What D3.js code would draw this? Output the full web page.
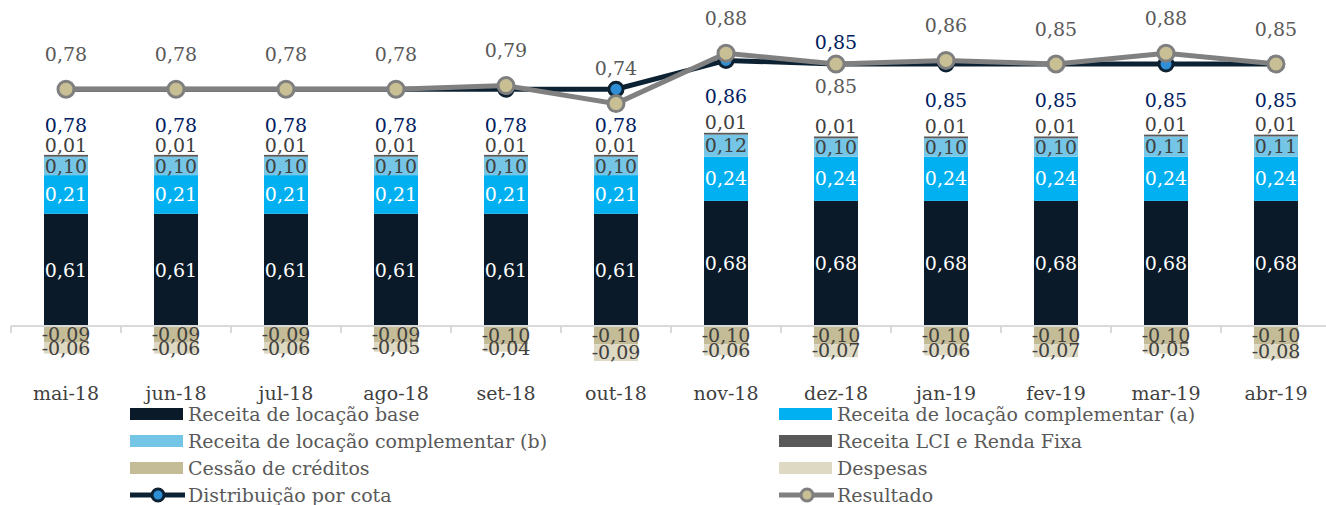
<!DOCTYPE html>
<html lang="en">
<head>
<meta charset="UTF-8">
<title>Distribuição por cota</title>
<script src="https://d3js.org/d3.v7.min.js"></script>
<style>
  body { margin: 0; background: #fff; }
  text { font-family: "DejaVu Serif", serif; }
</style>
</head>
<body>
<div id="chart"></div>
<script>
const months = ["mai-18","jun-18","jul-18","ago-18","set-18","out-18","nov-18","dez-18","jan-19","fev-19","mar-19","abr-19"];
const base     = [0.61,0.61,0.61,0.61,0.61,0.61,0.68,0.68,0.68,0.68,0.68,0.68];
const compA    = [0.21,0.21,0.21,0.21,0.21,0.21,0.24,0.24,0.24,0.24,0.24,0.24];
const compB    = [0.10,0.10,0.10,0.10,0.10,0.10,0.12,0.10,0.10,0.10,0.11,0.11];
const lci      = [0.01,0.01,0.01,0.01,0.01,0.01,0.01,0.01,0.01,0.01,0.01,0.01];
const cessao   = [-0.09,-0.09,-0.09,-0.09,-0.10,-0.10,-0.10,-0.10,-0.10,-0.10,-0.10,-0.10];
const despesas = [-0.06,-0.06,-0.06,-0.05,-0.04,-0.09,-0.06,-0.07,-0.06,-0.07,-0.05,-0.08];
const distrib  = [0.78,0.78,0.78,0.78,0.78,0.78,0.86,0.85,0.85,0.85,0.85,0.85];
const resultado= [0.78,0.78,0.78,0.78,0.79,0.74,0.88,0.85,0.86,0.85,0.88,0.85];

const W = 1326, H = 505;
const FS = 19;
const fmt = v => d3.format(".2f")(v).replace(".", ",").replace("−", "-");

const series = [
  { key: "base",     name: "Receita de locação base",             values: base,     color: "#0a1a28", txt: "#fff" },
  { key: "compA",    name: "Receita de locação complementar (a)", values: compA,    color: "#00b0f0", txt: "#fff" },
  { key: "compB",    name: "Receita de locação complementar (b)", values: compB,    color: "#75c5e6", txt: "#404040" },
  { key: "lci",      name: "Receita LCI e Renda Fixa",            values: lci,      color: "#595959", txt: "#404040" },
  { key: "cessao",   name: "Cessão de créditos",                  values: cessao,   color: "#c4bc96", txt: "#404040" },
  { key: "despesas", name: "Despesas",                            values: despesas, color: "#ddd9c3", txt: "#404040" }
];

const table = months.map((m, i) => {
  const row = { month: m };
  series.forEach(s => row[s.key] = s.values[i]);
  return row;
});

const svg = d3.select("#chart").append("svg")
  .attr("width", W).attr("height", H);

const x = d3.scaleBand().domain(months).range([11, 1331]).paddingInner(0).paddingOuter(0);
const barW = 44;
const y = d3.scaleLinear().domain([0, 1]).range([326, 142]);
const y2 = d3.scaleLinear().domain([0.5, 1.0]).range([190, 10]);

const stack = d3.stack().keys(series.map(s => s.key)).offset(d3.stackOffsetDiverging);
const stacked = stack(table);

// bars
stacked.forEach((layer, li) => {
  const s = series[li];
  svg.append("g").selectAll("rect")
    .data(layer)
    .join("rect")
    .attr("x", d => x(d.data.month) + x.bandwidth() / 2 - barW / 2)
    .attr("y", d => y(d[1]))
    .attr("width", barW)
    .attr("height", d => Math.max(0, y(d[0]) - y(d[1])))
    .attr("fill", s.color);
});

// axis line with ticks
const axisG = svg.append("g").attr("transform", `translate(0,${y(0)})`);
axisG.append("line").attr("x1", 11).attr("x2", W).attr("stroke", "#d9d9d9").attr("stroke-width", 2);
axisG.selectAll("line.tick")
  .data(months)
  .join("line")
  .attr("class", "tick")
  .attr("x1", d => x(d)).attr("x2", d => x(d))
  .attr("y1", 0).attr("y2", 7)
  .attr("stroke", "#d9d9d9").attr("stroke-width", 2);

// category labels
svg.append("g").selectAll("text")
  .data(months)
  .join("text")
  .attr("x", d => x(d) + x.bandwidth() / 2)
  .attr("y", 400)
  .attr("text-anchor", "middle")
  .attr("font-size", FS)
  .attr("fill", "#404040")
  .text(d => d);

// bar labels
stacked.forEach((layer, li) => {
  const s = series[li];
  svg.append("g").selectAll("text")
    .data(layer)
    .join("text")
    .attr("x", d => x(d.data.month) + x.bandwidth() / 2)
    .attr("y", d => s.key === "lci" ? y(d[1]) - 10 : (y(d[0]) + y(d[1])) / 2)
    .attr("dy", "0.35em")
    .attr("text-anchor", "middle")
    .attr("font-size", FS)
    .attr("fill", s.txt)
    .text(d => fmt(d.data[s.key]));
});

// lines
const cx = d => x(d) + x.bandwidth() / 2;
const lineGen = vals => d3.line().x((d, i) => cx(months[i])).y(d => y2(d))(vals);

svg.append("path").attr("d", lineGen(distrib))
  .attr("fill", "none").attr("stroke", "#0c2233").attr("stroke-width", 5);
svg.append("g").selectAll("circle")
  .data(distrib).join("circle")
  .attr("cx", (d, i) => cx(months[i])).attr("cy", d => y2(d))
  .attr("r", 7).attr("fill", "#2f8fd6").attr("stroke", "#0c2233").attr("stroke-width", 3);

svg.append("path").attr("d", lineGen(resultado))
  .attr("fill", "none").attr("stroke", "#808080").attr("stroke-width", 5);
svg.append("g").selectAll("circle")
  .data(resultado).join("circle")
  .attr("cx", (d, i) => cx(months[i])).attr("cy", d => y2(d))
  .attr("r", 8).attr("fill", "#c8bf94").attr("stroke", "#7f7f7f").attr("stroke-width", 3);

// line labels (dez-18 has them swapped)
const swapped = new Set(["dez-18"]);
svg.append("g").selectAll("text")
  .data(resultado).join("text")
  .attr("x", (d, i) => cx(months[i]))
  .attr("y", (d, i) => swapped.has(months[i]) ? y2(d) + 22 : y2(d) - 35)
  .attr("dy", "0.35em")
  .attr("text-anchor", "middle")
  .attr("font-size", FS)
  .attr("fill", "#595959")
  .text(d => fmt(d));
svg.append("g").selectAll("text")
  .data(distrib).join("text")
  .attr("x", (d, i) => cx(months[i]))
  .attr("y", (d, i) => swapped.has(months[i]) ? y2(d) - 22 : y2(d) + 36)
  .attr("dy", "0.35em")
  .attr("text-anchor", "middle")
  .attr("font-size", FS)
  .attr("fill", "#002060")
  .text(d => fmt(d));

// legend
const legendItems = [
  { s: series[0], col: 0, row: 0 }, { s: series[1], col: 1, row: 0 },
  { s: series[2], col: 0, row: 1 }, { s: series[3], col: 1, row: 1 },
  { s: series[4], col: 0, row: 2 }, { s: series[5], col: 1, row: 2 },
  { s: { name: "Distribuição por cota", line: "#0c2233", dot: "#2f8fd6", dotStroke: "#0c2233" }, col: 0, row: 3 },
  { s: { name: "Resultado", line: "#808080", dot: "#c8bf94", dotStroke: "#7f7f7f" }, col: 1, row: 3 }
];
const colX = [130, 779];
const legend = svg.append("g");
legendItems.forEach(it => {
  const gx = colX[it.col], gy = 414 + it.row * 27;
  const g = legend.append("g").attr("transform", `translate(${gx},${gy})`);
  if (it.s.line) {
    g.append("line").attr("x1", 0).attr("x2", 55).attr("stroke", it.s.line).attr("stroke-width", 5);
    g.append("circle").attr("cx", 28).attr("r", 6).attr("fill", it.s.dot)
      .attr("stroke", it.s.dotStroke).attr("stroke-width", 3);
  } else {
    g.append("rect").attr("x", 0).attr("y", -6).attr("width", 53).attr("height", 12).attr("fill", it.s.color);
  }
  g.append("text").attr("x", 58).attr("dy", "0.35em")
    .attr("font-size", FS).attr("fill", "#595959").text(it.s.name);
});
</script>
</body>
</html>
